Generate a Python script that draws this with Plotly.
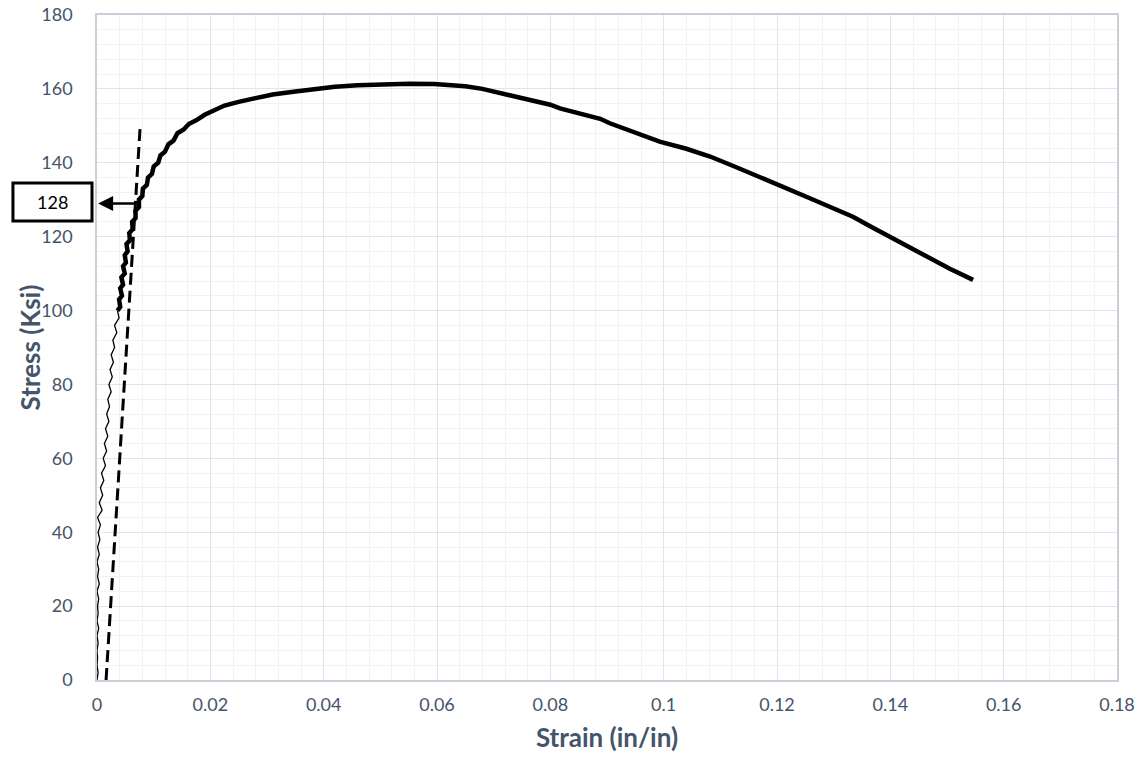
import plotly.graph_objects as go

# Elastic region (thin, noisy)
elastic_stress = [0, 2, 4, 6, 8, 10, 12, 14, 16, 18, 20, 22, 24, 26, 28, 30, 32, 34, 36, 38,
                  40, 42, 44, 46, 48, 50, 52, 54, 56, 58, 60, 62, 64, 66, 68, 70, 72, 74, 76, 78,
                  80, 82, 84, 86, 88, 90, 92, 94, 96, 98, 100]
elastic_strain = [0.0000, 0.0002, 0.0000, 0.0001, 0.0000, 0.0002, 0.0000, 0.0003, 0.0000, 0.0002,
                  0.0001, 0.0003, 0.0000, 0.0004, 0.0001, 0.0003, 0.0000, 0.0004, 0.0001, 0.0005,
                  0.0002, 0.0006, 0.0001, 0.0009, 0.0004, 0.0010, 0.0006, 0.0012, 0.0008, 0.0015,
                  0.0011, 0.0017, 0.0013, 0.0019, 0.0015, 0.0021, 0.0017, 0.0022, 0.0019, 0.0025,
                  0.0021, 0.0027, 0.0023, 0.0029, 0.0025, 0.0031, 0.0028, 0.0035, 0.0031, 0.0039,
                  0.0036]

# Yield and plastic region (thick, noisy)
plastic_stress = [100, 101, 103, 104, 106, 107, 109, 110, 112, 113, 115, 116, 118, 119, 121, 122,
                  124, 125, 127, 128, 130, 131, 133, 134, 136, 137, 139, 140, 142, 143, 145, 146,
                  148, 149, 150.5, 151.5, 153, 154, 155.5, 156.5, 157.5, 158.5, 159.3, 160, 160.6,
                  161, 161.3, 161.4, 161.3, 161, 160.7, 160, 159, 158, 156.9, 155.7, 154.7, 153.3,
                  151.9, 150.7, 148.3, 145.7, 143.8, 141.7, 139, 136.2, 133.3, 130.4, 127.9, 125.4,
                  122.7, 120, 117, 114.2, 111.3, 108.3]
plastic_strain = [0.0036, 0.0041, 0.0039, 0.0044, 0.0041, 0.0046, 0.0043, 0.0049, 0.0046, 0.0051,
                  0.0049, 0.0054, 0.0052, 0.0058, 0.0057, 0.0063, 0.0062, 0.0068, 0.0068, 0.0074,
                  0.0074, 0.0080, 0.0081, 0.0088, 0.0090, 0.0097, 0.0100, 0.0108, 0.0112, 0.0120,
                  0.0126, 0.0135, 0.0142, 0.0153, 0.0162, 0.0175, 0.0190, 0.0205, 0.0225, 0.0250,
                  0.0280, 0.0310, 0.0350, 0.0385, 0.0420, 0.0460, 0.0505, 0.0550, 0.0595, 0.0625,
                  0.0650, 0.0680, 0.0710, 0.0740, 0.0770, 0.0800, 0.0817, 0.0850, 0.0888, 0.0905,
                  0.0950, 0.0993, 0.1040, 0.1082, 0.1125, 0.1170, 0.1215, 0.1258, 0.1296, 0.1334,
                  0.1366, 0.1399, 0.1435, 0.1470, 0.1505, 0.1546]

# 0.2% offset line
offset_strain = [0.0016, 0.0076]
offset_stress = [0, 149.4]

yield_value = 128
yield_strain_at_curve = 0.0072

x_tickvals = [0, 0.02, 0.04, 0.06, 0.08, 0.1, 0.12, 0.14, 0.16, 0.18]
x_ticktext = ["0", "0.02", "0.04", "0.06", "0.08", "0.1", "0.12", "0.14", "0.16", "0.18"]
y_tickvals = [0, 20, 40, 60, 80, 100, 120, 140, 160, 180]

FONT = "Lato, 'Open Sans', sans-serif"
TXT = "#44546A"

fig = go.Figure()
fig.add_trace(go.Scatter(x=elastic_strain, y=elastic_stress, mode="lines",
                         line=dict(color="black", width=1.3), showlegend=False, hoverinfo="skip"))
fig.add_trace(go.Scatter(x=plastic_strain, y=plastic_stress, mode="lines",
                         line=dict(color="black", width=4.5), showlegend=False, hoverinfo="skip"))
fig.add_trace(go.Scatter(x=offset_strain, y=offset_stress, mode="lines",
                         line=dict(color="black", width=3, dash="12px,6px"),
                         showlegend=False, hoverinfo="skip"))

# Arrow pointing to the box
fig.add_annotation(x=0.0002, y=yield_value + 1, ax=yield_strain_at_curve, ay=yield_value + 1,
                   xref="x", yref="y", axref="x", ayref="y", text="", showarrow=True,
                   arrowhead=2, arrowsize=1.2, arrowwidth=2.5, arrowcolor="black")
# Box with value
fig.add_shape(type="rect", xref="paper", yref="paper",
              x0=-0.0824, x1=-0.0049, y0=0.6902, y1=0.7474,
              line=dict(color="black", width=3), fillcolor="white", layer="above")
fig.add_annotation(xref="paper", yref="paper", x=-0.0436, y=0.7188, text=str(yield_value),
                   xanchor="center", yanchor="middle",
                   showarrow=False, font=dict(family=FONT, size=18, color="black"))

# Y axis title
fig.add_annotation(xref="paper", yref="paper", x=-0.0657, y=0.5, text="<b>Stress (Ksi)</b>",
                   textangle=-90, xanchor="center", yanchor="middle", showarrow=False,
                   font=dict(family=FONT, size=26, color=TXT))

fig.update_layout(
    width=1146, height=764,
    margin=dict(l=97, r=29, t=15, b=84),
    paper_bgcolor="white", plot_bgcolor="white",
    font=dict(family=FONT, color=TXT),
    xaxis=dict(range=[0, 0.18], tickvals=x_tickvals, ticktext=x_ticktext, automargin=False,
               showgrid=True, gridcolor="#E1E4EA", gridwidth=1,
               minor=dict(dtick=0.004, showgrid=True, gridcolor="#F1F2F5", gridwidth=1),
               showline=True, linecolor="#C9CED8", linewidth=1.5, mirror=True,
               zeroline=False, ticks="", ticklabelstandoff=8, tickfont=dict(size=18, color=TXT),
               title=dict(text="<b>Strain (in/in)</b>", font=dict(size=26, color=TXT), standoff=14)),
    yaxis=dict(range=[0, 180], tickvals=y_tickvals, automargin=False,
               showgrid=True, gridcolor="#E1E4EA", gridwidth=1,
               minor=dict(dtick=4, showgrid=True, gridcolor="#F1F2F5", gridwidth=1),
               showline=True, linecolor="#C9CED8", linewidth=1.5, mirror=True,
               zeroline=False, ticks="", ticklabelstandoff=19, tickfont=dict(size=18, color=TXT)),
)

fig.write_html("out.html", config={"displayModeBar": False},
               post_script="document.body.style.margin='0';")
